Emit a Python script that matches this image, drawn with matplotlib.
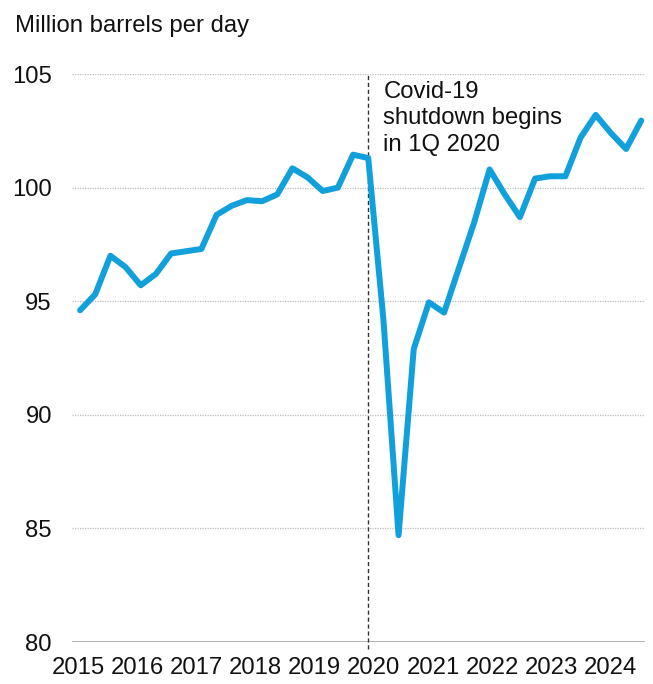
import matplotlib.pyplot as plt
import numpy as np

plt.rcParams['font.family'] = ['Liberation Sans', 'DejaVu Sans']

# quarterly world liquid fuels consumption, 1Q 2015 - 2Q 2024
consumption = [
    94.6, 95.3, 97.0, 96.5,     # 2015
    95.7, 96.2, 97.1, 97.2,     # 2016
    97.3, 98.8, 99.2, 99.45,    # 2017
    99.4, 99.7, 100.85, 100.45,  # 2018
    99.85, 100.0, 101.45, 101.3,  # 2019
    94.2, 84.7, 92.9, 94.95,    # 2020
    94.5, 96.5, 98.5, 100.8,    # 2021
    99.7, 98.7, 100.4, 100.5,   # 2022
    100.5, 102.2, 103.2, 102.4,  # 2023
    101.7, 102.95,              # 2024
]
years = ['2015', '2016', '2017', '2018', '2019',
         '2020', '2021', '2022', '2023', '2024']
y_ticks = [80, 85, 90, 95, 100, 105]
covid_idx = 19
note = 'Covid-19\nshutdown begins\nin 1Q 2020'

x = np.arange(len(consumption))
fs = 17.2

fig = plt.figure(figsize=(6.53, 6.84), dpi=100)
ax = fig.add_axes([0.1103, 0.0614, 0.8775, 0.8304])

# dotted grid, solid baseline
for v in y_ticks[1:]:
    ax.axhline(v, color='#bdbdbd', lw=0.9, ls=(0, (1, 1)), zorder=0)
ax.axhline(y_ticks[0], color='#a6a6a6', lw=1.2, zorder=0)

ax.axvline(covid_idx, ymin=-0.012, ymax=1.0, color='#333333', lw=1.0,
           ls=(0, (3, 2)), clip_on=False, zorder=1)
ax.text(covid_idx + 1.0, 104.7, note, fontsize=fs, va='top', ha='left',
        linespacing=1.26, color='#111111')

ax.plot(x, consumption, color='#11a0db', lw=4.3, solid_joinstyle='round',
        solid_capstyle='round', zorder=3)

ax.set_xlim(-0.53, 37.25)
ax.set_ylim(80, 105)
ax.set_yticks(y_ticks)
ax.set_yticklabels([str(v) for v in y_ticks])
ax.set_xticks(np.arange(len(years)) * 3.9 - 0.13)
ax.set_xticklabels(years)
ax.tick_params(axis='y', length=0, pad=14.5, labelsize=fs, labelcolor='#111111')
ax.tick_params(axis='x', length=0, pad=11, labelsize=fs, labelcolor='#111111')
for s in ax.spines.values():
    s.set_visible(False)

fig.text(15 / 653, 1 - 31.7 / 684, 'Million barrels per day', fontsize=fs,
         va='baseline', ha='left', color='#111111')

fig.savefig('out.png', dpi=100)
